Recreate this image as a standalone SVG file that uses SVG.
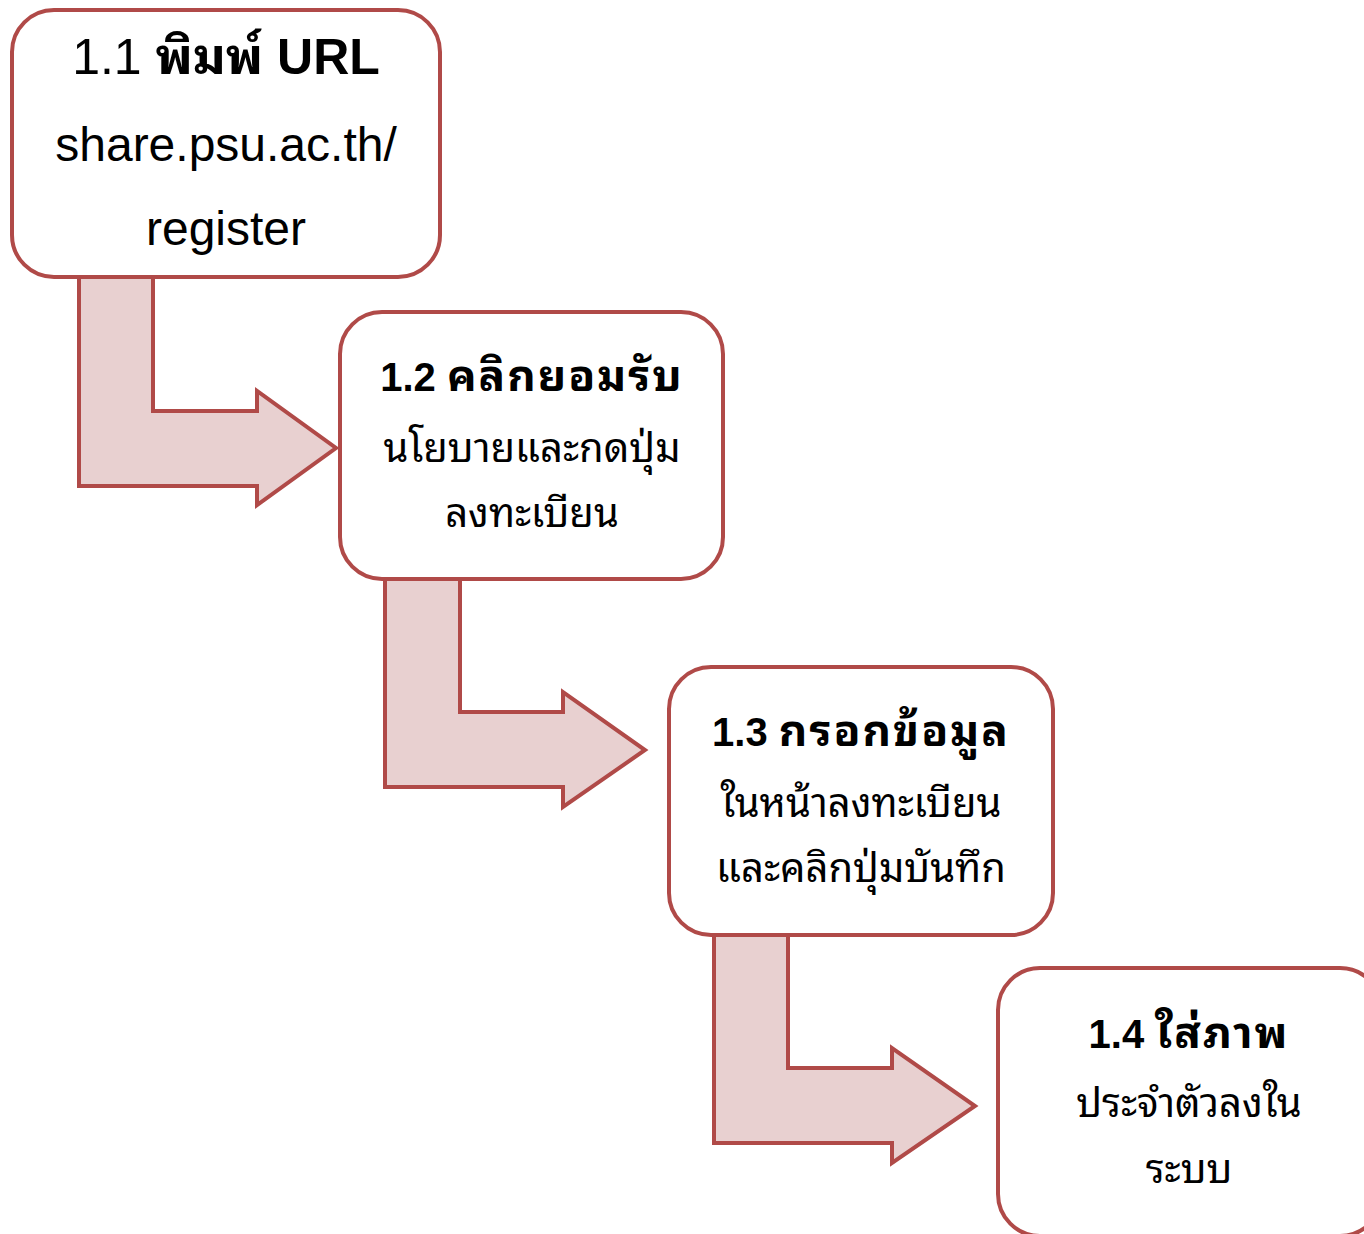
<svg xmlns="http://www.w3.org/2000/svg" width="1364" height="1234" viewBox="0 0 1364 1234">
<style>
.box{fill:#FFFFFF;stroke:#B04A48;stroke-width:4}
.arr{fill:#E8D0D0;stroke:#B04A48;stroke-width:4;stroke-linejoin:miter}
text{font-family:"Liberation Sans","Noto Sans Thai Looped","Loma","Garuda","Tahoma","Noto Sans Thai","Noto Sans",sans-serif;fill:#000;text-anchor:middle}
.t1{font-size:48px}
.t{font-size:40px}
.b{font-weight:bold}
.th{font-size:44px;letter-spacing:2px}
</style>
<rect width="1364" height="1234" fill="#FFFFFF"/>
<g id="connectors">
<polygon class="arr" points="79,270 153,270 153,411 257,411 257,391 336,448 257,505 257,486 79,486"/>
<polygon class="arr" points="385,572 460,572 460,712 563,712 563,692 645,750 563,807 563,787 385,787"/>
<polygon class="arr" points="714,928 788,928 788,1068 892,1068 892,1048 975,1106 892,1163 892,1143 714,1143"/>
</g>
<g id="node1">
<rect class="box" x="12" y="10" width="428" height="267" rx="42"/>
<text class="t1" x="226" y="74" style="font-size:50px">1.1 <tspan class="b">พิมพ์ URL</tspan></text>
<text class="t1" x="226" y="161">share.psu.ac.th/</text>
<text class="t1" x="226" y="245">register</text>
</g>
<g id="node2">
<rect class="box" x="340" y="312" width="383" height="267" rx="42"/>
<text class="t b" x="532" y="391">1.2 <tspan class="th">คลิกยอมรับ</tspan></text>
<text class="t" x="532" y="462">นโยบายและกดปุ่ม</text>
<text class="t" x="532" y="527">ลงทะเบียน</text>
</g>
<g id="node3">
<rect class="box" x="669" y="667" width="384" height="268" rx="42"/>
<text class="t b" x="861" y="746">1.3 <tspan class="th">กรอกข้อมูล</tspan></text>
<text class="t" x="861" y="817">ในหน้าลงทะเบียน</text>
<text class="t" x="861" y="882">และคลิกปุ่มบันทึก</text>
</g>
<g id="node4">
<rect class="box" x="998" y="968" width="384" height="268" rx="42"/>
<text class="t b" x="1189" y="1048">1.4 <tspan class="th">ใส่ภาพ</tspan></text>
<text class="t" x="1189" y="1117">ประจำตัวลงใน</text>
<text class="t" x="1189" y="1183">ระบบ</text>
</g>
</svg>
